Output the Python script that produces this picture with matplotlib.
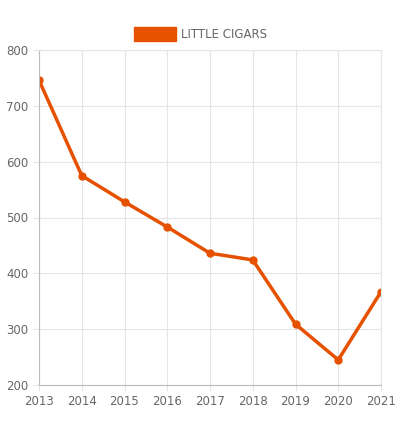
import matplotlib.pyplot as plt
from matplotlib.patches import Rectangle

years = [2013, 2014, 2015, 2016, 2017, 2018, 2019, 2020, 2021]
little_cigars = [746, 575, 528, 483, 436, 424, 309, 245, 367]
color = '#e65100'

fig = plt.figure(figsize=(4.1, 4.25), dpi=100)
ax = fig.add_axes([39/410, 1-385/425, (381-39)/410, (385-50)/425])
ax.plot(years, little_cigars, color=color, lw=2.5, marker='o', ms=5)
ax.set_xlim(2013, 2021)
ax.set_ylim(200, 800)
ax.set_xticks(years)
ax.set_yticks(range(200, 801, 100))
ax.grid(color='#e5e5e5', lw=0.8)
for s in ax.spines.values():
    s.set_color('#e5e5e5')
ax.spines['bottom'].set_color('#bbbbbb')
ax.spines['left'].set_color('#bbbbbb')
ax.tick_params(colors='#666666', labelsize=8.5, length=4, color='#e5e5e5')
ax.set_axisbelow(True)

fig.patches.append(Rectangle((134/410, 1-41/425), 42/410, 14/425,
                             transform=fig.transFigure, color=color))
fig.text(181/410, 1-34/425, 'LITTLE CIGARS', color='#666666', fontsize=8.5, va='center')

fig.savefig('out.png', dpi=100)
